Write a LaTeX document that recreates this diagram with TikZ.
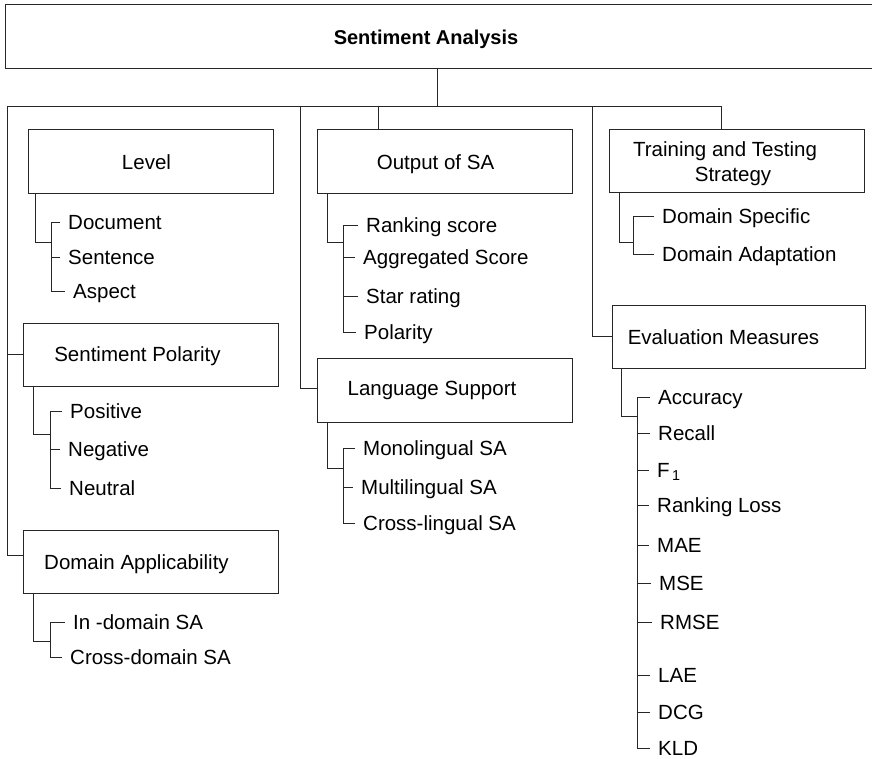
\documentclass[tikz,border=0pt]{standalone}
\usepackage{fontspec}
\setmainfont{Liberation Sans}
\usepackage{tikz}

\begin{document}
\begin{tikzpicture}[x=1pt,y=-1pt,
	catbox/.style={draw=black!85,line width=1pt,inner sep=0pt},
	cattext/.style={inner sep=0pt,font=\fontsize{20.5}{25}\selectfont,text height=14.7pt,text depth=0pt},
	item/.style={anchor=west,inner xsep=8pt,inner ysep=0pt,font=\fontsize{20.5}{25}\selectfont,text height=14.7pt,text depth=0pt},
	link/.style={draw=black!85,line width=0.9pt}]
		\useasboundingbox (0,0) rectangle (872,759);
		\clip (0,0) rectangle (872,759);
		% top box
		\node [catbox,minimum width=890pt,minimum height=64pt] (sa) at (450,37) {};
		\node [cattext,font=\fontsize{20}{24}\selectfont\bfseries] (sa-t) at (426,37) {Sentiment Analysis};
		% category boxes
		\node [catbox,minimum width=245pt,minimum height=64pt] (lvl) at (150.5,162) {};
		\node [cattext] (lvl-t) at (146.5,162) {Level};
		\node [catbox,minimum width=255pt,minimum height=63pt] (pol) at (150.5,354.5) {};
		\node [cattext] (pol-t) at (137.5,354) {Sentiment Polarity};
		\node [catbox,minimum width=255pt,minimum height=63pt] (dom) at (150.5,561.5) {};
		\node [cattext] (dom-t) at (136.5,562) {Domain Applicability};
		\node [catbox,minimum width=255pt,minimum height=64pt] (out) at (444.5,162) {};
		\node [cattext] (out-t) at (435.5,162) {Output of SA};
		\node [catbox,minimum width=255pt,minimum height=64pt] (lang) at (444.5,390) {};
		\node [cattext] (lang-t) at (432,388) {Language Support};
		\node [catbox,minimum width=255pt,minimum height=63pt] (train) at (736.5,161.5) {};
		\node [inner sep=0pt,align=center,font=\fontsize{20.5}{25}\selectfont] (train-t) at (725,164) {Training and Testing\\\hspace*{16pt}Strategy};
		\node [catbox,minimum width=253pt,minimum height=63pt] (eval) at (738.5,336.5) {};
		\node [cattext] (eval-t) at (723.5,337) {Evaluation Measures};

		% items
		\node [item] (doc) at (60,222) {Document};
		\node [item] (sent) at (60,257.5) {Sentence};
		\node [item] (asp) at (65,291.5) {Aspect};
		\node [item] (pos) at (62,411.5) {Positive};
		\node [item] (neg) at (60,449.5) {Negative};
		\node [item] (neu) at (61,488) {Neutral};
		\node [item] (ind) at (65,622) {In -domain SA};
		\node [item] (crd) at (62,657) {Cross-domain SA};
		\node [item] (rank) at (358,225) {Ranking score};
		\node [item] (agg) at (355,257.5) {Aggregated Score};
		\node [item] (star) at (358,296) {Star rating};
		\node [item] (opol) at (356,332.5) {Polarity};
		\node [item] (mono) at (355,448) {Monolingual SA};
		\node [item] (multi) at (353,487) {Multilingual SA};
		\node [item] (cross) at (355,523) {Cross-lingual SA};
		\node [item] (dspec) at (654,216.5) {Domain Specific};
		\node [item] (dadap) at (654,254.5) {Domain Adaptation};
		\node [item] (acc) at (650,397) {Accuracy};
		\node [item] (rec) at (650,433) {Recall};
		\node [item] (fone) at (649,470) {F\textsubscript{\,1}};
		\node [item] (rloss) at (649,505) {Ranking Loss};
		\node [item] (mae) at (649,545) {MAE};
		\node [item] (mse) at (651,583) {MSE};
		\node [item] (rmse) at (652,622) {RMSE};
		\node [item] (lae) at (650,675) {LAE};
		\node [item] (dcg) at (650,712) {DCG};
		\node [item] (kld) at (650,748) {KLD};

		% main bus
		\coordinate (hub) at (437,106);
		\coordinate (busL) at (7,106);
		\coordinate (busR) at (721,106);
		\draw [link] (hub |- sa.south) -- (hub);
		\draw [link] (busL) -- (busR);
		\draw [link] (busL) |- ([yshift=6pt]dom.west);
		\draw [link] (busL |- pol.west) -- (pol.west);
		\draw [link] ([xshift=-16pt]lang.west |- hub) |- ([yshift=2pt]lang.west);
		\draw [link] ([xshift=62pt]out.north west |- hub) -- ([xshift=62pt]out.north west);
		\draw [link] ([xshift=-19pt]eval.west |- hub) |- (eval.west);
		\draw [link] (busR) -- (busR |- train.north);

		% level
		\coordinate (lvl-j) at (51,242);
		\draw [link] ([xshift=8pt]lvl.south west) |- (lvl-j);
		\draw [link] (lvl-j |- doc.west) -- (lvl-j |- asp.west);
		\draw [link] (lvl-j |- doc.west) -- (doc.west);
		\draw [link] (lvl-j |- sent.west) -- (sent.west);
		\draw [link] (lvl-j |- asp.west) -- (asp.west);
		% polarity
		\coordinate (pol-j) at (50,434);
		\draw [link] ([xshift=11pt]pol.south west) |- (pol-j);
		\draw [link] (pol-j |- pos.west) -- (pol-j |- neu.west);
		\draw [link] (pol-j |- pos.west) -- (pos.west);
		\draw [link] (pol-j |- neg.west) -- (neg.west);
		\draw [link] (pol-j |- neu.west) -- (neu.west);
		% domain
		\coordinate (dom-j) at (50,641);
		\draw [link] ([xshift=11pt]dom.south west) |- (dom-j);
		\draw [link] (dom-j |- ind.west) -- (dom-j |- crd.west);
		\draw [link] (dom-j |- ind.west) -- (ind.west);
		\draw [link] (dom-j |- crd.west) -- (crd.west);
		% output
		\coordinate (out-j) at (343,242);
		\draw [link] ([xshift=11pt]out.south west) |- (out-j);
		\draw [link] (out-j |- rank.west) -- (out-j |- opol.west);
		\draw [link] (out-j |- rank.west) -- (rank.west);
		\draw [link] (out-j |- agg.west) -- (agg.west);
		\draw [link] (out-j |- star.west) -- (star.west);
		\draw [link] (out-j |- opol.west) -- (opol.west);
		% language
		\coordinate (lang-j) at (343,468);
		\draw [link] ([xshift=11pt]lang.south west) |- (lang-j);
		\draw [link] (lang-j |- mono.west) -- (lang-j |- cross.west);
		\draw [link] (lang-j |- mono.west) -- (mono.west);
		\draw [link] (lang-j |- multi.west) -- (multi.west);
		\draw [link] (lang-j |- cross.west) -- (cross.west);
		% training
		\coordinate (train-j) at (633,242);
		\draw [link] ([xshift=11pt]train.south west) |- (train-j);
		\draw [link] (train-j |- dspec.west) -- (train-j |- dadap.west);
		\draw [link] (train-j |- dspec.west) -- (dspec.west);
		\draw [link] (train-j |- dadap.west) -- (dadap.west);
		% evaluation
		\coordinate (eval-j) at (637,416);
		\draw [link] ([xshift=10pt]eval.south west) |- (eval-j);
		\draw [link] (eval-j |- acc.west) -- (eval-j |- kld.west);
		\draw [link] (eval-j |- acc.west) -- (acc.west);
		\draw [link] (eval-j |- rec.west) -- (rec.west);
		\draw [link] (eval-j |- fone.west) -- (fone.west);
		\draw [link] (eval-j |- rloss.west) -- (rloss.west);
		\draw [link] (eval-j |- mae.west) -- (mae.west);
		\draw [link] (eval-j |- mse.west) -- (mse.west);
		\draw [link] (eval-j |- rmse.west) -- (rmse.west);
		\draw [link] (eval-j |- lae.west) -- (lae.west);
		\draw [link] (eval-j |- dcg.west) -- (dcg.west);
		\draw [link] (eval-j |- kld.west) -- (kld.west);
\end{tikzpicture}
\end{document}
